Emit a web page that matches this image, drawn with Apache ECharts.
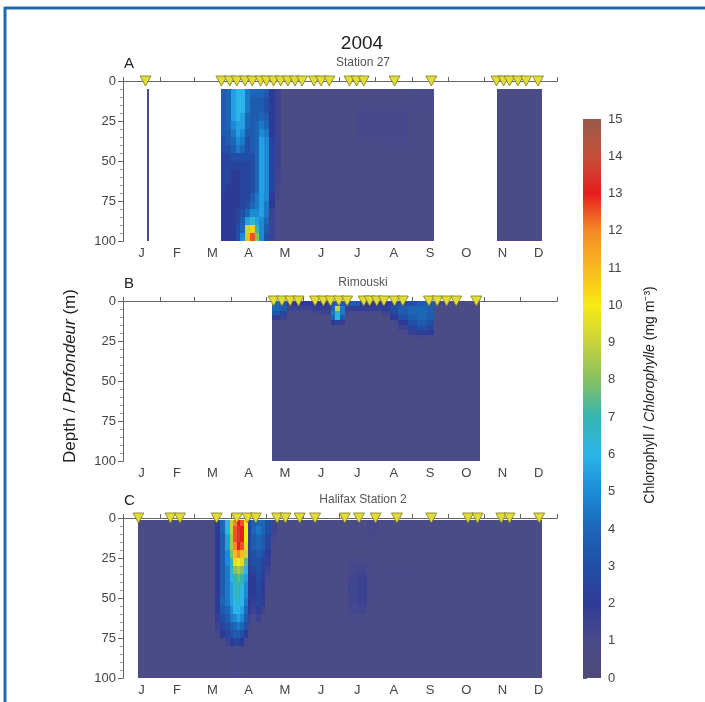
<!DOCTYPE html>
<html>
<head>
<meta charset="utf-8">
<title>Chlorophyll 2004</title>
<script src="https://cdn.jsdelivr.net/npm/echarts@6/dist/echarts.min.js"></script>
<style>
  html, body { margin: 0; padding: 0; background: #fff; }
  #main { width: 705px; height: 702px; }
</style>
</head>
<body>
<div id="main"></div>
<script>
// months of 2004 (leap year), day-of-year
var monthStarts = [0, 31, 60, 91, 121, 152, 182, 213, 244, 274, 305, 335, 366];
var monthMids = [15.5, 45.5, 75.5, 106, 136.5, 167, 197.5, 228.5, 259, 289.5, 320, 350.5];
var monthLabels = ['J', 'F', 'M', 'A', 'M', 'J', 'J', 'A', 'S', 'O', 'N', 'D'];

// colour scale 0..15 mg m-3
var chlColors = ['#4d4a78', '#4a4b8a', '#2e3b96', '#214fa6', '#1c66b8', '#1b8bd6', '#2cb5ea', '#35b5b0',
                 '#86c062', '#c8d43c', '#f7ea14', '#f8ba1e', '#f48a26', '#e61e1e', '#c5503a', '#9a5a4c'];
var colorRange = [0, 15];

// ---- A: Station 27 ----
var daysA = [20, 22, 83, 87, 91, 95, 99, 103, 107, 111, 115, 119, 123, 128, 133, 175, 197, 220, 240, 262, 315, 353];
var depthsA = [5, 10, 15, 20, 25, 30, 35, 40, 45, 50, 55, 60, 65, 70, 75, 80, 85, 90, 95, 100];
var chlA = [
  [0.6, null, 3.5, 4, 5.5, 6, 6, 4.5, 4, 4, 4, 3.5, 2, 1.5, 0.7, 0.7, 0.8, 0.8, 0.95, null, 0.8],
  [0.6, null, 3.5, 4, 5.5, 6, 6, 4.5, 3.5, 3.5, 3.5, 3, 2, 1.5, 0.7, 0.7, 0.8, 0.85, 0.95, null, 0.8],
  [0.6, null, 3.5, 4, 5.5, 6, 6, 4.5, 3.5, 3.5, 3.5, 3, 2, 1.5, 0.7, 0.7, 1.05, 1.05, 0.95, null, 0.8],
  [0.6, null, 3.5, 4, 5.5, 6, 5.5, 4, 3.5, 3.5, 4, 3.5, 2, 1.5, 0.7, 0.7, 1.1, 1.1, 0.8, null, 0.8],
  [0.6, null, 3.5, 4, 5, 5.5, 5.5, 4, 3.5, 4, 4.5, 4, 2, 1.5, 0.7, 0.7, 1.1, 1.1, 0.7, null, 0.8],
  [0.6, null, 3.5, 3.5, 4.5, 5.5, 5, 3.5, 3.5, 4, 5, 4.5, 2, 1.5, 0.7, 0.7, 1.1, 1.1, 0.7, null, 0.8],
  [0.6, null, 3, 3.5, 4, 5, 4.5, 3, 3.5, 4, 5.5, 5, 2.5, 1.5, 0.7, 0.7, 1.0, 1.05, 0.7, null, 0.8],
  [0.6, null, 3, 3, 3.5, 4.5, 4, 3, 3.5, 4, 5.5, 5, 2.5, 1.5, 0.7, 0.7, 0.8, 0.9, 0.7, null, 0.8],
  [0.6, null, 2.5, 2.5, 3, 3, 3, 3, 3, 4, 5.5, 5, 2.5, 1.5, 0.7, 0.7, 0.7, 0.7, 0.7, null, 0.8],
  [0.6, null, 2.5, 2.5, 2.5, 2.5, 2.5, 2.5, 3, 4, 5.5, 5, 2.5, 1.5, 0.7, 0.7, 0.7, 0.7, 0.7, null, 0.8],
  [0.6, null, 2.5, 2.5, 2, 2, 2.5, 2.5, 3, 4, 5.5, 5, 2.5, 1.3, 0.7, 0.7, 0.7, 0.7, 0.7, null, 0.8],
  [0.6, null, 2.5, 2.5, 2, 2, 2.5, 2.5, 3, 4, 5.5, 5, 2.5, 1.3, 0.7, 0.7, 0.7, 0.7, 0.7, null, 0.8],
  [0.6, null, 2.5, 2, 2, 2, 2.5, 2.5, 3, 4, 5.5, 5, 2.5, 1.2, 0.7, 0.7, 0.7, 0.7, 0.7, null, 0.8],
  [0.6, null, 2, 2, 2, 2, 2.5, 2.5, 3.5, 4.5, 5.5, 5, 2, 1.2, 0.7, 0.7, 0.7, 0.7, 0.7, null, 0.8],
  [0.6, null, 2, 2, 2, 2, 2.5, 3, 4, 4.5, 5.5, 4.5, 2, 1, 0.7, 0.7, 0.7, 0.7, 0.7, null, 0.8],
  [0.6, null, 2, 2, 2, 2.5, 3, 4, 5, 5, 5.5, 4.5, 1.5, 1, 0.7, 0.7, 0.7, 0.7, 0.7, null, 0.8],
  [0.6, null, 2, 2, 2, 2.5, 3.5, 5.5, 6.5, 5.5, 5, 4, 1.5, 1, 0.7, 0.7, 0.7, 0.7, 0.7, null, 0.8],
  [0.6, null, 2, 2, 2, 3, 4, 9, 10.5, 7, 5, 3.5, 1.5, 1, 0.7, 0.7, 0.7, 0.7, 0.7, null, 0.8],
  [0.6, null, 2, 2, 2, 3, 5, 11, 12.5, 8, 5, 3, 1.5, 1, 0.7, 0.7, 0.7, 0.7, 0.7, null, 0.8]
];
var samplesA = [19, 83, 90, 96, 103, 109, 116, 121, 127, 133, 139, 145, 151, 161, 167, 174, 191, 197, 203, 229, 260, 315, 321, 326, 333, 340, 350];

// ---- B: Rimouski ----
var daysB = [126, 132, 138, 150, 160, 168, 175, 179, 183, 187, 191, 200, 210, 218, 225, 232, 240, 248, 256, 262, 275, 301];
var depthsB = [0, 3, 6, 9, 12, 15, 18, 21, 24, 100];
var chlB = [
  [4, 3.5, 2, 2, 2, 2, 3.5, 4, 3.5, 2, 3.5, 2, 2, 2, 2.5, 3, 3, 3.5, 3.5, 1.2, 0.9],
  [4, 3.5, 1.5, 1.5, 1.8, 1.8, 4, 9, 4.5, 1.8, 1.8, 1.8, 1.8, 2, 3, 3.5, 4, 4, 3.5, 0.8, 0.7],
  [3.5, 2.5, 0.8, 0.8, 1.2, 1.5, 4.5, 6.5, 4.5, 1.2, 1, 1, 1, 1.5, 2.5, 3.5, 4, 4, 3.5, 0.7, 0.7],
  [1.8, 1.5, 0.7, 0.7, 0.7, 0.8, 4, 6, 3.5, 0.8, 0.7, 0.7, 0.7, 0.8, 2, 3, 3.5, 4, 3.5, 0.7, 0.7],
  [0.8, 0.8, 0.7, 0.7, 0.7, 0.7, 2, 2.5, 1.8, 0.7, 0.7, 0.7, 0.7, 0.7, 1.2, 2, 3, 3.5, 3, 0.7, 0.7],
  [0.7, 0.7, 0.7, 0.7, 0.7, 0.7, 0.7, 0.7, 0.7, 0.7, 0.7, 0.7, 0.7, 0.7, 0.8, 1.5, 2.5, 3, 2.5, 0.7, 0.7],
  [0.7, 0.7, 0.7, 0.7, 0.7, 0.7, 0.7, 0.7, 0.7, 0.7, 0.7, 0.7, 0.7, 0.7, 0.7, 1, 1.8, 2.2, 2, 0.7, 0.7],
  [0.7, 0.7, 0.7, 0.7, 0.7, 0.7, 0.7, 0.7, 0.7, 0.7, 0.7, 0.7, 0.7, 0.7, 0.7, 0.7, 1, 1.2, 1, 0.7, 0.7],
  [0.7, 0.7, 0.7, 0.7, 0.7, 0.7, 0.7, 0.7, 0.7, 0.7, 0.7, 0.7, 0.7, 0.7, 0.7, 0.7, 0.7, 0.7, 0.7, 0.7, 0.7]
];
var samplesB = [127, 134, 141, 148, 162, 169, 175, 182, 189, 203, 208, 214, 220, 229, 236, 258, 265, 273, 281, 298];

// ---- C: Halifax Station 2 ----
var daysC = [13, 60, 78, 82, 86, 90, 93, 96, 99, 102, 105, 108, 112, 116, 120, 125, 130, 147, 175, 190, 198, 206, 214, 225, 240, 260, 353];
var depthsC = [1.5, 5, 10, 15, 20, 25, 30, 35, 40, 45, 50, 55, 60, 65, 70, 75, 80, 100];
var chlC = [
  [0.7, 0.7, 2, 4, 6, 9, 12, 13, 12.5, 10, 2.5, 3.5, 4, 4, 3, 1.5, 0.7, 0.7, 0.7, 0.7, 0.7, 1.1, 0.7, 0.7, 0.7, 0.7],
  [0.7, 0.7, 2, 4, 6, 9, 12.5, 13.5, 13, 10, 2.5, 4, 4.5, 4, 3, 1.5, 0.7, 0.7, 0.7, 0.7, 0.7, 1.1, 0.7, 0.7, 0.7, 0.7],
  [0.7, 0.7, 2, 3.5, 5.5, 8.5, 12.5, 13.5, 13, 10, 2.5, 3.5, 4, 3.5, 2.5, 1.2, 0.7, 0.7, 0.7, 0.7, 0.7, 1.1, 0.7, 0.7, 0.7, 0.7],
  [0.7, 0.7, 2, 3.5, 5.5, 8.5, 12, 13, 12.5, 9.5, 2.5, 3.5, 4, 3.5, 2.5, 1, 0.7, 0.7, 0.7, 0.7, 0.7, 0.9, 0.7, 0.7, 0.7, 0.7],
  [0.7, 0.7, 2, 3.5, 5, 8, 11, 12, 11, 9, 2.5, 3, 3.5, 3, 2, 0.9, 0.7, 0.7, 0.7, 0.7, 0.8, 0.7, 0.7, 0.7, 0.7, 0.7],
  [0.7, 0.7, 2, 3.5, 5, 7, 9.5, 10, 9.5, 7.5, 2.5, 3, 3, 2.5, 1.8, 0.8, 0.7, 0.7, 0.7, 1.05, 1.1, 0.8, 0.7, 0.7, 0.7, 0.7],
  [0.7, 0.7, 2, 3.5, 4.5, 6.5, 8, 8.5, 8, 6, 2, 2.5, 3, 2.5, 1.5, 0.7, 0.7, 0.7, 0.7, 1.2, 1.3, 0.9, 0.7, 1.0, 0.7, 0.7],
  [0.7, 0.7, 2, 3.5, 4.5, 6, 7, 7.5, 7, 5.5, 2, 2, 2.8, 2.2, 1.2, 0.7, 0.7, 0.7, 0.7, 1.3, 1.5, 1.0, 0.7, 0.7, 0.7, 0.7],
  [0.7, 0.7, 2, 3.5, 4.5, 5.5, 6.5, 7, 6.5, 5, 2, 2, 2.5, 2, 1, 0.7, 0.7, 0.7, 0.7, 1.4, 1.6, 1.0, 0.7, 0.7, 0.7, 0.7],
  [0.7, 0.7, 2, 3.5, 4.5, 5.5, 6.5, 7, 6, 5, 2, 2, 2.5, 2, 1, 0.7, 0.7, 0.7, 0.7, 1.4, 1.6, 1.0, 0.7, 0.7, 0.7, 0.7],
  [0.7, 0.7, 2, 4, 4.5, 5.5, 6, 6.5, 6, 4.5, 2, 1.8, 2.5, 1.8, 0.8, 0.7, 0.7, 0.7, 0.7, 1.3, 1.5, 0.9, 0.7, 0.7, 0.7, 0.7],
  [0.7, 0.7, 2, 3.5, 4, 5, 6, 6, 5.5, 4, 2, 1.5, 2.2, 1.5, 0.7, 0.7, 0.7, 0.7, 0.7, 1.2, 1.3, 0.8, 0.7, 0.7, 0.7, 0.7],
  [0.7, 0.7, 1.8, 3, 3.5, 4.5, 5, 5.5, 5, 3.5, 1.5, 1, 1.5, 0.8, 0.7, 0.7, 0.7, 0.7, 0.7, 1.0, 1.0, 0.7, 0.7, 0.7, 0.7, 0.7],
  [0.7, 0.7, 1.5, 2.5, 3, 3.5, 4, 4.5, 4, 3, 1.2, 0.8, 0.8, 0.7, 0.7, 0.7, 0.7, 0.7, 0.7, 0.7, 0.7, 0.7, 0.7, 0.7, 0.7, 0.7],
  [0.7, 0.7, 1.2, 2, 2.5, 3, 3.5, 3.5, 3, 2, 0.9, 0.7, 0.7, 0.7, 0.7, 0.7, 0.7, 0.7, 0.7, 0.7, 0.7, 0.7, 0.7, 0.7, 0.7, 0.7],
  [0.7, 0.7, 0.8, 1, 1.5, 2, 2.5, 2.5, 2, 1.2, 0.8, 0.7, 0.7, 0.7, 0.7, 0.7, 0.7, 0.7, 0.7, 0.7, 0.7, 0.7, 0.7, 0.7, 0.7, 0.7],
  [0.7, 0.7, 0.7, 0.7, 0.7, 0.8, 0.9, 1, 0.9, 0.8, 0.7, 0.7, 0.7, 0.7, 0.7, 0.7, 0.7, 0.7, 0.7, 0.7, 0.7, 0.7, 0.7, 0.7, 0.7, 0.7]
];
var samplesC = [13, 40, 48, 79, 96, 105, 112, 130, 137, 149, 162, 187, 199, 213, 231, 260, 291, 299, 319, 326, 351];

// cells [day0, day1, depth0, depth1, chl]
function buildCells(days, depths, chl) {
  var out = [];
  for (var r = 0; r < depths.length - 1; r++) {
    for (var c = 0; c < days.length - 1; c++) {
      var v = chl[r][c];
      if (v != null) out.push([days[c], days[c + 1], depths[r], depths[r + 1], v]);
    }
  }
  return out;
}

var panels = [
  { letter: 'A', name: 'Station 27', top: 81, cells: buildCells(daysA, depthsA, chlA), samples: samplesA },
  { letter: 'B', name: 'Rimouski', top: 301, cells: buildCells(daysB, depthsB, chlB), samples: samplesB },
  { letter: 'C', name: 'Halifax Station 2', top: 518, cells: buildCells(daysC, depthsC, chlC), samples: samplesC }
];

var FONT = 'Liberation Sans, Arial, sans-serif';
var AXIS = '#666';

// snap cell edges to whole pixels so neighbouring cells leave no seams
function renderCell(params, api) {
  var p0 = api.coord([api.value(0), api.value(2)]);
  var p1 = api.coord([api.value(1), api.value(3)]);
  var x0 = Math.round(Math.min(p0[0], p1[0])), x1 = Math.round(Math.max(p0[0], p1[0]));
  var y0 = Math.round(Math.min(p0[1], p1[1])), y1 = Math.round(Math.max(p0[1], p1[1]));
  if (x1 === x0) x1 = x0 + 1;
  return {
    type: 'rect',
    shape: { x: x0, y: y0, width: x1 - x0, height: y1 - y0 },
    style: { fill: api.visual('color') }
  };
}

function monthName(v) {
  for (var i = 0; i < monthMids.length; i++) if (Math.abs(monthMids[i] - v) < 0.01) return monthLabels[i];
  return '';
}

var grids = [], xAxes = [], yAxes = [], cellSeries = [], markSeries = [], texts = [];

panels.forEach(function (p, i) {
  grids.push({ left: 123, width: 434, top: p.top, height: 160 });
  xAxes.push({
    gridIndex: i, type: 'value', min: 0, max: 366, position: 'bottom',
    splitLine: { show: false },
    axisLine: { lineStyle: { color: AXIS } },
    axisTick: { customValues: monthStarts, inside: true, length: 4, lineStyle: { color: AXIS } },
    axisLabel: { customValues: monthMids, formatter: monthName, color: '#444', fontSize: 13, fontFamily: FONT, margin: 6 }
  });
  xAxes.push({
    gridIndex: i, type: 'value', min: 0, max: 366, position: 'top',
    splitLine: { show: false },
    axisLine: { lineStyle: { color: AXIS } },
    axisTick: { customValues: monthStarts, inside: false, length: 3, lineStyle: { color: AXIS } },
    axisLabel: { show: false }
  });
  yAxes.push({
    gridIndex: i, type: 'value', inverse: true, min: 0, max: 100, interval: 25,
    splitLine: { show: false },
    axisLine: { show: true, lineStyle: { color: AXIS } },
    axisTick: { show: true, length: 5, lineStyle: { color: AXIS } },
    minorTick: { show: true, splitNumber: 5, length: 3, lineStyle: { color: '#999' } },
    axisLabel: { color: '#444', fontSize: 13, fontFamily: FONT, margin: 7 }
  });
  yAxes.push({
    gridIndex: i, type: 'value', inverse: true, min: 0, max: 100, interval: 25, position: 'right',
    splitLine: { show: false },
    axisLine: { show: true, lineStyle: { color: AXIS } },
    axisTick: { show: true, inside: true, length: 4, lineStyle: { color: AXIS } },
    minorTick: { show: true, splitNumber: 5, length: 2, lineStyle: { color: '#999' } },
    axisLabel: { show: false }
  });
  cellSeries.push({
    type: 'custom', xAxisIndex: 2 * i, yAxisIndex: 2 * i, silent: true, z: 1,
    encode: { x: [0, 1], y: [2, 3] },
    renderItem: renderCell, data: p.cells
  });
  markSeries.push({
    type: 'scatter', xAxisIndex: 2 * i, yAxisIndex: 2 * i, silent: true, z: 5, clip: false,
    symbol: 'triangle', symbolRotate: 180, symbolSize: [11, 10],
    itemStyle: { color: '#e2dc3a', borderColor: '#7d7a22', borderWidth: 0.8, opacity: 1 },
    data: p.samples.map(function (d) { return [d, 0]; })
  });
  texts.push({ type: 'text', left: 124, top: p.top - 25, style: { text: p.letter, fontSize: 15, fontFamily: FONT, fill: '#222' } });
  texts.push({ type: 'text', x: 363, y: p.top - 18, style: { text: p.name, fontSize: 12, fontFamily: FONT, fill: '#555', align: 'center', verticalAlign: 'middle' } });
});

// colour bar: grid 3, axes index 6
grids.push({ left: 583, width: 18, top: 119, height: 559 });
xAxes.push({ gridIndex: 3, type: 'value', min: 0, max: 1, show: false });
yAxes.push({
  gridIndex: 3, type: 'value', min: colorRange[0], max: colorRange[1], interval: 1, position: 'right',
  splitLine: { show: false },
  axisLine: { show: true, lineStyle: { color: 'rgba(0,0,0,0)' } },
  axisTick: { show: true, length: 4, lineStyle: { color: AXIS } },
  axisLabel: { color: '#444', fontSize: 13, fontFamily: FONT, margin: 7 }
});
var barStops = chlColors.map(function (c, i) { return { offset: i / (chlColors.length - 1), color: c }; });
var colorBarSeries = {
  type: 'custom', xAxisIndex: 6, yAxisIndex: 6, silent: true, z: 2,
  encode: { x: [0, 1], y: [2, 3] },
  data: [[0, 1, colorRange[0], colorRange[1]]],
  renderItem: function (params, api) {
    var p0 = api.coord([api.value(0), api.value(2)]);
    var p1 = api.coord([api.value(1), api.value(3)]);
    return {
      type: 'rect',
      shape: { x: Math.min(p0[0], p1[0]), y: Math.min(p0[1], p1[1]), width: Math.abs(p1[0] - p0[0]), height: Math.abs(p0[1] - p1[1]) },
      style: { fill: { type: 'linear', x: 0, y: 1, x2: 0, y2: 0, colorStops: barStops } }
    };
  }
};

texts.push({ type: 'text', x: 362, y: 44, style: { text: '2004', fontSize: 19, fontFamily: FONT, fill: '#222', align: 'center', verticalAlign: 'middle' } });
texts.push({
  type: 'text', x: 70, y: 376, rotation: Math.PI / 2,
  style: {
    text: '{n|Depth / }{i|Profondeur}{n| (m)}', align: 'center', verticalAlign: 'middle',
    rich: {
      n: { fontSize: 17, fontFamily: FONT, fill: '#222' },
      i: { fontSize: 17, fontFamily: FONT, fontStyle: 'italic', fill: '#222' }
    }
  }
});
texts.push({
  type: 'text', x: 650, y: 395, rotation: Math.PI / 2,
  style: {
    text: '{n|Chlorophyll / }{i|Chlorophylle}{n| (mg m\u207B\u00B3)}', align: 'center', verticalAlign: 'middle',
    rich: {
      n: { fontSize: 14, fontFamily: FONT, fill: '#222' },
      i: { fontSize: 14, fontFamily: FONT, fontStyle: 'italic', fill: '#222' }
    }
  }
});
// blue frame
texts.push({ type: 'line', shape: { x1: 4, y1: 8, x2: 705, y2: 8 }, style: { stroke: '#1f6db0', lineWidth: 3 } });
texts.push({ type: 'line', shape: { x1: 5, y1: 7, x2: 5, y2: 702 }, style: { stroke: '#1f6db0', lineWidth: 3 } });

var chart = echarts.init(document.getElementById('main'));
chart.setOption({
  backgroundColor: '#fff',
  animation: false,
  grid: grids,
  xAxis: xAxes,
  yAxis: yAxes,
  visualMap: {
    type: 'continuous', show: false, min: colorRange[0], max: colorRange[1],
    dimension: 4, seriesIndex: [0, 1, 2],
    inRange: { color: chlColors }
  },
  graphic: texts,
  series: cellSeries.concat(markSeries).concat([colorBarSeries])
});
</script>
</body>
</html>
